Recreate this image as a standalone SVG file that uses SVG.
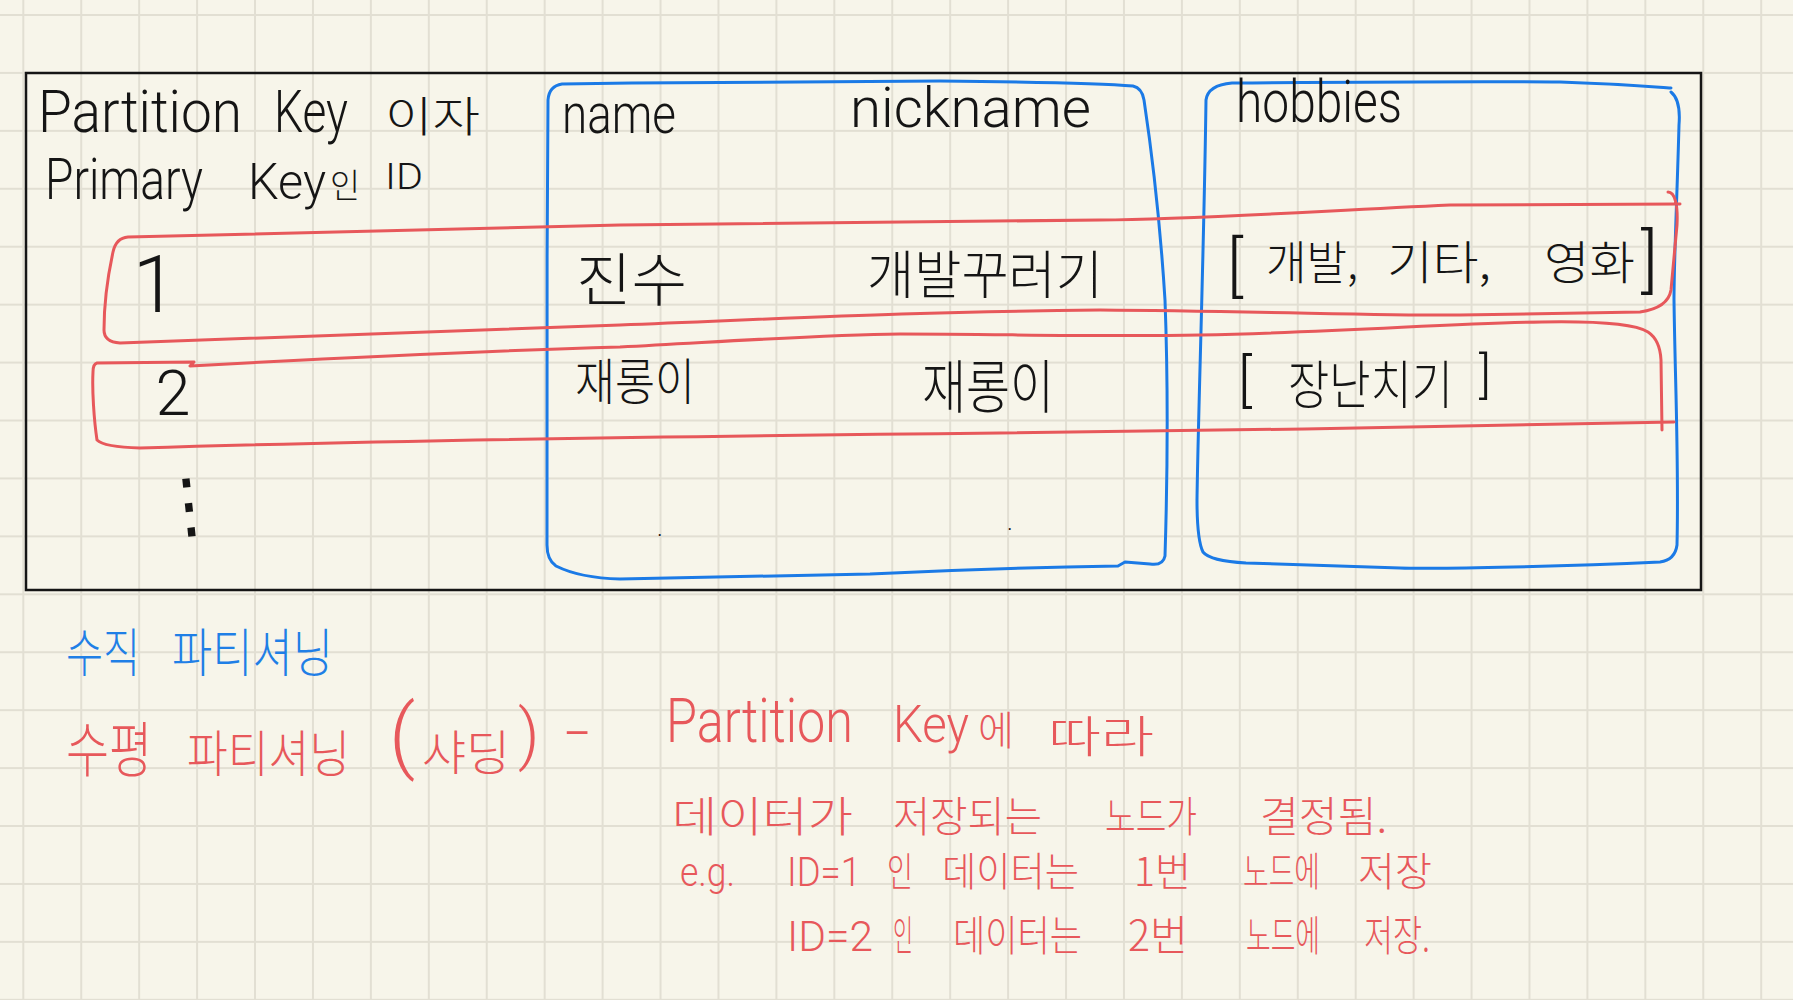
<svg xmlns="http://www.w3.org/2000/svg" width="1793" height="1000" viewBox="0 0 1793 1000">
<defs>
<pattern id="grid" x="-5.665" y="-13.965" width="57.93" height="57.93" patternUnits="userSpaceOnUse">
<path d="M28.965,0 V57.93 M0,28.965 H57.93" stroke="#e2dfd3" stroke-width="2" fill="none"/>
</pattern>
<style>
.ink{fill:#151515;font-family:Roboto,"Liberation Sans","Noto Sans CJK KR",sans-serif;font-weight:300}
.kr{font-family:"Noto Sans CJK KR","Noto Sans",sans-serif;font-weight:300}
.red{fill:#e7585b}
.blue{fill:#1f7fe6}
.rs{fill:none;stroke:#e7585b;stroke-width:3;stroke-linecap:round;stroke-linejoin:round}
.bs{fill:none;stroke:#1b7ae6;stroke-width:3;stroke-linecap:round;stroke-linejoin:round}
</style>
</defs>
<rect width="1793" height="1000" fill="#f7f5ea"/>
<rect width="1793" height="1000" fill="url(#grid)"/>

<g id="table-frame">
<rect x="26" y="73" width="1675" height="517" fill="none" stroke="#151515" stroke-width="2.5"/>
</g>

<g id="connectors">
<path id="col-name-nickname" class="bs" d="M548,100 Q549,86 562,84 C700,82 850,81 940,81 C1050,82 1110,84 1133,86 Q1142,88 1144,100 C1150,140 1160,220 1165,300 C1168,380 1168,460 1165,556 Q1163,566 1150,564 L1125,562 L1118,566 C1050,567 950,570 870,574 C780,576 700,578 620,579 Q580,578 556,566 Q547,560 547,545 C546,450 547,250 548,100 Z"/>
<path id="col-hobbies" class="bs" d="M1206,100 Q1208,85 1232,83 C1350,82 1480,81 1560,82 C1620,84 1655,87 1671,88 M1671,92 Q1681,100 1679,125 C1677,200 1674,260 1674,300 C1675,380 1679,460 1677,545 Q1675,560 1660,562 C1550,567 1430,569 1400,568 C1330,566 1280,564 1246,563 Q1210,561 1203,552 Q1197,540 1197,500 C1198,420 1204,250 1206,100"/>
<path id="row-1" class="rs" d="M1680,204 L1450,205 C1300,212 1200,219 1100,220 L620,225 C400,230 200,235 128,237 Q116,238 113,252 C108,275 104,300 104,330 Q104,342 120,343 C200,341 400,332 620,325 C800,318 900,312 1100,310 C1250,311 1400,316 1460,315 L1640,312 Q1668,308 1671,290 L1677,225 C1678,205 1675,192 1668,192"/>
<path id="row-2" class="rs" d="M97,363 L194,362 L190,366 C300,360 450,352 620,347 C750,340 820,335 900,334 C1000,334 1100,337 1200,335 C1350,332 1450,323 1542,322 C1600,321 1635,324 1648,332 Q1660,340 1661,360 L1662,430 M1674,422 C1500,426 1200,431 1000,433 C700,436 400,440 140,448 Q104,447 97,440 C94,420 92,390 93,372 Q93,364 97,363"/>
</g>

<g id="header-id">
<text class="ink" font-size="60" y="132"><tspan x="38" textLength="204" lengthAdjust="spacingAndGlyphs">Partition</tspan> <tspan x="274" textLength="74" lengthAdjust="spacingAndGlyphs">Key</tspan> <tspan x="385" class="kr" font-size="42" textLength="95" lengthAdjust="spacingAndGlyphs">이자</tspan></text>
<text class="ink" font-size="58" y="199"><tspan x="45" textLength="158" lengthAdjust="spacingAndGlyphs">Primary</tspan> <tspan x="248" font-size="50" textLength="78" lengthAdjust="spacingAndGlyphs">Key</tspan><tspan x="330" class="kr" font-size="34" y="198" textLength="30" lengthAdjust="spacingAndGlyphs">인</tspan> <tspan x="385" font-size="36" y="189" textLength="38" lengthAdjust="spacingAndGlyphs">ID</tspan></text>
</g>

<g id="header-name"><text class="ink" font-size="56" x="562" y="133" textLength="114" lengthAdjust="spacingAndGlyphs">name</text></g>
<g id="header-nickname"><text class="ink" font-size="56" x="850" y="127" textLength="241" lengthAdjust="spacingAndGlyphs">nickname</text></g>
<g id="header-hobbies"><text class="ink" font-size="60" x="1236" y="122" textLength="166" lengthAdjust="spacingAndGlyphs">hobbies</text></g>

<g id="row1-cells">
<text class="ink" font-size="80" x="155" y="312" text-anchor="middle">1</text>
<text class="ink kr" font-size="58" x="576" y="301" textLength="111" lengthAdjust="spacingAndGlyphs">진수</text>
<text class="ink kr" font-size="52" x="867" y="294" textLength="236" lengthAdjust="spacingAndGlyphs">개발꾸러기</text>
<text class="ink"><tspan x="1227" y="289" font-size="67">[</tspan> <tspan class="kr" x="1266" y="279" font-size="46" textLength="92" lengthAdjust="spacingAndGlyphs">개발,</tspan> <tspan class="kr" x="1387" y="279" font-size="46" textLength="104" lengthAdjust="spacingAndGlyphs">기타,</tspan> <tspan class="kr" x="1544" y="279" font-size="46" textLength="91" lengthAdjust="spacingAndGlyphs">영화</tspan> <tspan x="1641" y="284" font-size="71">]</tspan></text>
</g>

<g id="row2-cells">
<text class="ink" font-size="63" x="173" y="415" text-anchor="middle">2</text>
<text class="ink kr" font-size="50" x="575" y="400" textLength="120" lengthAdjust="spacingAndGlyphs">재롱이</text>
<text class="ink kr" font-size="58" x="922" y="408" textLength="132" lengthAdjust="spacingAndGlyphs">재롱이</text>
<text class="ink"><tspan x="1238" y="400" font-size="58">[</tspan> <tspan class="kr" x="1288" y="404" font-size="52" textLength="165" lengthAdjust="spacingAndGlyphs">장난치기</tspan> <tspan x="1479" y="392" font-size="50">]</tspan></text>
</g>

<g id="row-more">
<text font-family="DejaVu Sans, sans-serif" fill="#151515" font-size="72" x="188" y="530" text-anchor="middle" transform="rotate(-6 188 498)">⋮</text>
<text class="ink" font-size="24" x="657" y="536">.</text>
<text class="ink" font-size="24" x="1007" y="530">.</text>
</g>

<g id="note-vertical">
<text class="blue kr" font-size="52" y="672"><tspan x="66" textLength="74" lengthAdjust="spacingAndGlyphs">수직</tspan> <tspan x="172" textLength="161" lengthAdjust="spacingAndGlyphs">파티셔닝</tspan></text>
</g>

<g id="note-horizontal">
<text class="red kr" font-size="56" y="772"><tspan x="66" font-size="60" textLength="86" lengthAdjust="spacingAndGlyphs">수평</tspan> <tspan x="187" font-size="50" textLength="163" lengthAdjust="spacingAndGlyphs">파티셔닝</tspan> <tspan class="ink red" x="389" y="763" font-size="82">(</tspan><tspan x="422" y="770" font-size="48" textLength="88" lengthAdjust="spacingAndGlyphs">샤딩</tspan><tspan class="ink red" x="518" y="757" font-size="66">)</tspan> <tspan x="563" y="748" textLength="28" lengthAdjust="spacingAndGlyphs">-</tspan></text>
<text class="ink red" font-size="62" y="742"><tspan x="666" textLength="187" lengthAdjust="spacingAndGlyphs">Partition</tspan> <tspan x="893" font-size="52" textLength="76" lengthAdjust="spacingAndGlyphs">Key</tspan><tspan class="kr" x="978" y="745" font-size="40" textLength="36" lengthAdjust="spacingAndGlyphs">에</tspan> <tspan class="kr" x="1048" y="753" font-size="44" textLength="106" lengthAdjust="spacingAndGlyphs">따라</tspan></text>
<text class="red kr" font-size="42" y="832"><tspan x="672" textLength="181" lengthAdjust="spacingAndGlyphs">데이터가</tspan> <tspan x="893" textLength="149" lengthAdjust="spacingAndGlyphs">저장되는</tspan> <tspan x="1105" textLength="92" lengthAdjust="spacingAndGlyphs">노드가</tspan> <tspan x="1260" textLength="127" lengthAdjust="spacingAndGlyphs">결정됨.</tspan></text>
<text class="red kr" font-size="40" y="889"><tspan class="ink red" x="680" font-size="40" y="886" textLength="55" lengthAdjust="spacingAndGlyphs">e.g.</tspan> <tspan class="ink red" x="787" textLength="74" lengthAdjust="spacingAndGlyphs">ID=1</tspan> <tspan x="887" textLength="26" lengthAdjust="spacingAndGlyphs">인</tspan> <tspan x="942" textLength="137" lengthAdjust="spacingAndGlyphs">데이터는</tspan> <tspan x="1134" textLength="57" lengthAdjust="spacingAndGlyphs">1번</tspan> <tspan x="1243" textLength="77" lengthAdjust="spacingAndGlyphs">노드에</tspan> <tspan x="1358" textLength="74" lengthAdjust="spacingAndGlyphs">저장</tspan></text>
<text class="red kr" font-size="42" y="951"><tspan class="ink red" x="787" textLength="86" lengthAdjust="spacingAndGlyphs">ID=2</tspan> <tspan x="893" textLength="20" lengthAdjust="spacingAndGlyphs">인</tspan> <tspan x="953" textLength="129" lengthAdjust="spacingAndGlyphs">데이터는</tspan> <tspan x="1128" textLength="60" lengthAdjust="spacingAndGlyphs">2번</tspan> <tspan x="1246" textLength="74" lengthAdjust="spacingAndGlyphs">노드에</tspan> <tspan x="1364" textLength="66" lengthAdjust="spacingAndGlyphs">저장.</tspan></text>
</g>
</svg>
